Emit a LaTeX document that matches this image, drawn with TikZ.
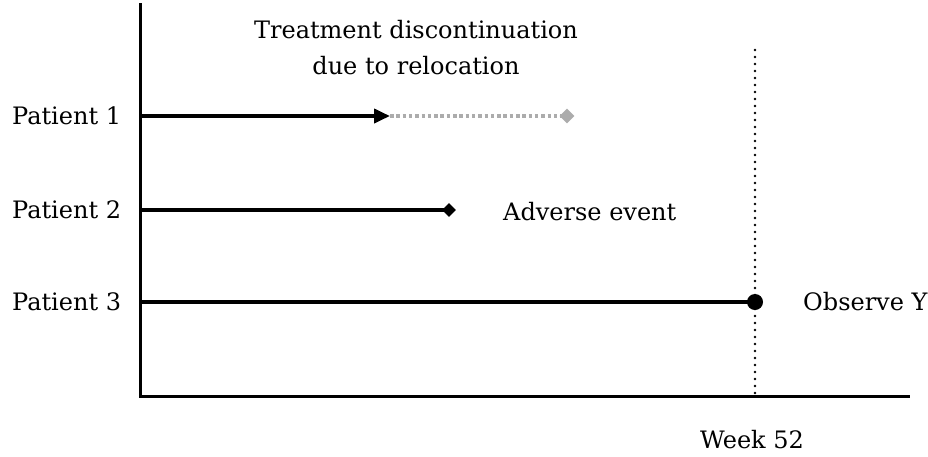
\documentclass[tikz,border=0pt]{standalone}
\usepackage{fontspec}
\setmainfont{DejaVu Serif}
\usetikzlibrary{arrows.meta,shapes.geometric}
\begin{document}
\begin{tikzpicture}[x=1pt,y=-1pt,
  lbl/.style={font=\fontsize{24}{36}\selectfont, inner sep=0pt},
  axis/.style={line width=3pt, black},
  track/.style={line width=3.8pt, black}]
\useasboundingbox (0,0) rectangle (928,456);
% axes
\coordinate (top) at (140,3);
\coordinate (origin) at (140,396);
\coordinate (xend) at (910,396);
\draw[axis] (top) -- (origin) -- (xend);
% week 52 dotted line
\coordinate (wtop) at (755,50);
\coordinate (wbot) at (755,396);
\draw[line width=2.6pt, line cap=round, dash pattern=on 0pt off 7pt] (wtop) -- (wbot);
% labels
\node[lbl, anchor=west] (p1) at (12,116) {Patient 1};
\node[lbl, anchor=west] (p2) at (12,210) {Patient 2};
\node[lbl, anchor=west] (p3) at (12,302) {Patient 3};
\node[lbl, align=center] (td) at (416,48) {Treatment discontinuation\\due to relocation};
\node[lbl, anchor=west] (ae) at (503,212) {Adverse event};
\node[lbl, anchor=west] (oy) at (803,302) {Observe Y};
\node[lbl] (wk) at (752,440) {Week 52};
% patient 1
\coordinate (s1) at (140,116);
\coordinate (e1) at (390,116);
\node[diamond, fill=gray!65, inner sep=0pt, minimum size=15pt] (d1) at (567,116) {};
\draw[track, -{Triangle[length=16pt,width=14pt]}] (s1) -- (e1);
\draw[line width=4pt, gray!65, dash pattern=on 3.5pt off 2.8pt] (e1) -- (d1.center);
% patient 2
\coordinate (s2) at (140,210);
\node[diamond, fill=black, inner sep=0pt, minimum size=14pt] (d2) at (449,210) {};
\draw[track] (s2) -- (d2.center);
% patient 3
\coordinate (s3) at (140,302);
\node[circle, fill=black, inner sep=0pt, minimum size=16pt] (c3) at (755,302) {};
\draw[track] (s3) -- (c3.center);
\end{tikzpicture}
\end{document}
